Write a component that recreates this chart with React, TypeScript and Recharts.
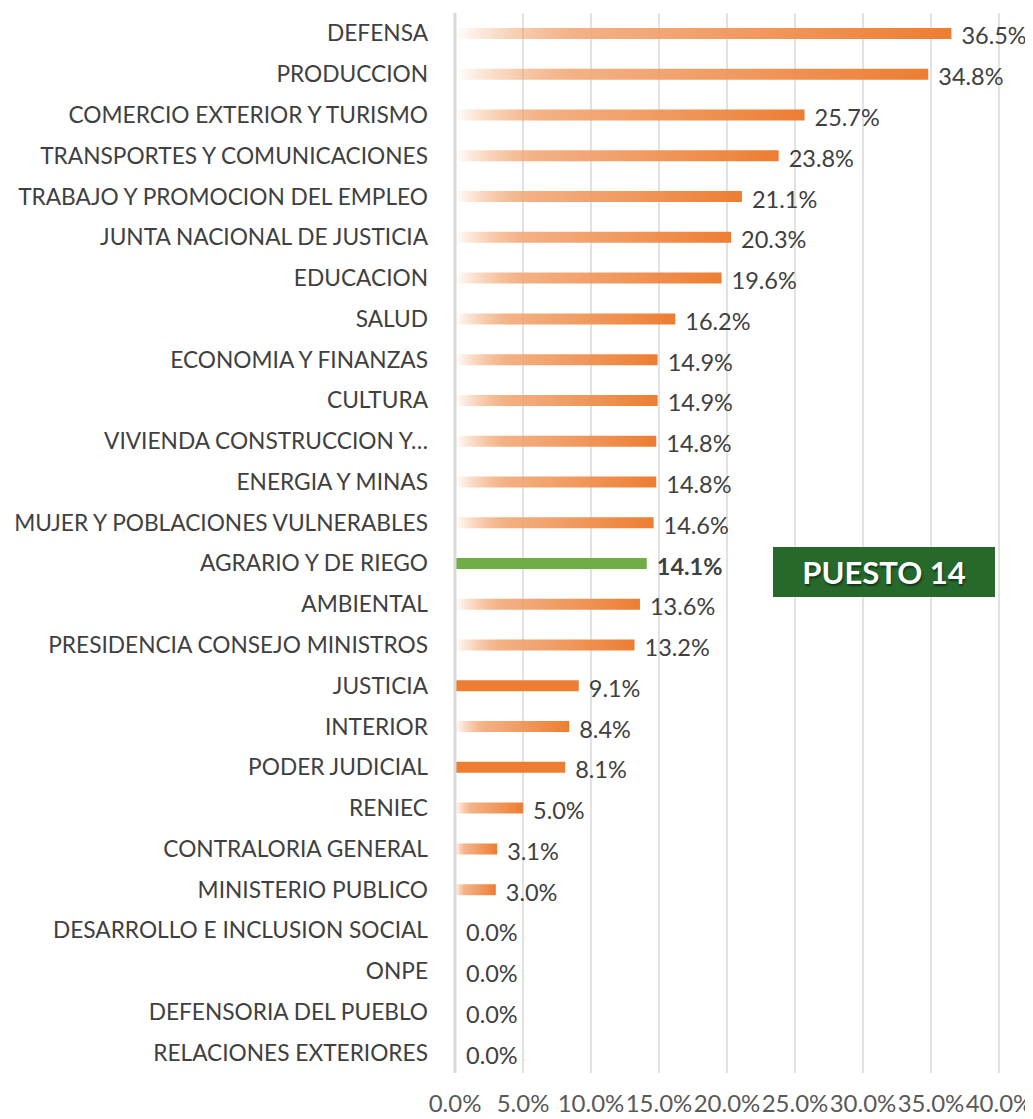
import React from 'react'
import {
    BarChart,
    Bar,
    XAxis,
    YAxis,
    CartesianGrid,
    Cell,
    LabelList,
} from 'recharts'

const sectores = [
    'DEFENSA',
    'PRODUCCION',
    'COMERCIO EXTERIOR Y TURISMO',
    'TRANSPORTES Y COMUNICACIONES',
    'TRABAJO Y PROMOCION DEL EMPLEO',
    'JUNTA NACIONAL DE JUSTICIA',
    'EDUCACION',
    'SALUD',
    'ECONOMIA Y FINANZAS',
    'CULTURA',
    'VIVIENDA CONSTRUCCION Y…',
    'ENERGIA Y MINAS',
    'MUJER Y POBLACIONES VULNERABLES',
    'AGRARIO Y DE RIEGO',
    'AMBIENTAL',
    'PRESIDENCIA CONSEJO MINISTROS',
    'JUSTICIA',
    'INTERIOR',
    'PODER JUDICIAL',
    'RENIEC',
    'CONTRALORIA GENERAL',
    'MINISTERIO PUBLICO',
    'DESARROLLO E INCLUSION SOCIAL',
    'ONPE',
    'DEFENSORIA DEL PUEBLO',
    'RELACIONES EXTERIORES',
]

const avance = [
    36.5, 34.8, 25.7, 23.8, 21.1, 20.3, 19.6, 16.2, 14.9, 14.9, 14.8, 14.8, 14.6,
    14.1, 13.6, 13.2, 9.1, 8.4, 8.1, 5.0, 3.1, 3.0, 0, 0, 0, 0,
]

const xTicks = [0, 5, 10, 15, 20, 25, 30, 35, 40]

const destacado = 'AGRARIO Y DE RIEGO'
const sinDegradado = ['JUSTICIA', 'PODER JUDICIAL']

const pct = (v: number) => `${v.toFixed(1)}%`

const data = sectores.map((name, i) => ({
    name,
    value: avance[i],
    label: pct(avance[i]),
}))

const ValueLabel = (props: any) => {
    const { x, y, width, height, value, index } = props
    const bold = data[index]?.name === destacado
    return (
        <text
            x={Number(x) + Number(width || 0) + 10}
            y={Number(y) + Number(height) / 2 + 5}
            fill='#404040'
            fontSize={23.5}
            fontWeight={bold ? 700 : 400}
            dominantBaseline='middle'
        >
            {value}
        </text>
    )
}

const App: React.FC = () => {
    return (
        <div
            style={{
                position: 'relative',
                width: 1025,
                height: 1111,
                fontFamily: 'Lato, sans-serif',
            }}
        >
            <BarChart
                width={1025}
                height={1111}
                data={data}
                layout='vertical'
                margin={{ top: 5, right: 34, left: 0, bottom: 0 }}
                style={{ overflow: 'visible' }}
            >
                <defs>
                    <linearGradient id='fade' x1='0' y1='0' x2='1' y2='0'>
                        <stop offset='0' stopColor='#ED7D31' stopOpacity={0} />
                        <stop offset='0.25' stopColor='#F2A877' stopOpacity={0.9} />
                        <stop offset='1' stopColor='#ED7D31' stopOpacity={1} />
                    </linearGradient>
                </defs>
                <CartesianGrid
                    horizontal={false}
                    stroke='#d9d9d9'
                    strokeWidth={1.5}
                />
                <XAxis
                    type='number'
                    domain={[0, 40]}
                    ticks={xTicks}
                    tickFormatter={pct}
                    axisLine={false}
                    tickLine={false}
                    tickSize={0}
                    tickMargin={22}
                    height={46}
                    tick={{ fill: '#595959', fontSize: 24 }}
                    interval={0}
                />
                <YAxis
                    type='category'
                    dataKey='name'
                    width={447}
                    axisLine={{ stroke: '#d9d9d9', strokeWidth: 3 }}
                    tickLine={false}
                    tickSize={0}
                    tickMargin={27}
                    interval={0}
                    tick={{ fill: '#404040', fontSize: 22.7 }}
                />
                <Bar
                    dataKey='value'
                    barSize={11}
                    minPointSize={1}
                    isAnimationActive={false}
                >
                    {data.map((d) => (
                        <Cell
                            key={d.name}
                            fill={
                                d.value === 0
                                    ? 'none'
                                    : d.name === destacado
                                      ? '#70AD47'
                                      : sinDegradado.includes(d.name)
                                        ? '#ED7D31'
                                        : 'url(#fade)'
                            }
                        />
                    ))}
                    <LabelList dataKey='label' content={ValueLabel} />
                </Bar>
            </BarChart>
            <div
                style={{
                    position: 'absolute',
                    left: 765,
                    top: 539,
                    width: 222,
                    height: 50,
                    background: '#26692B',
                    color: '#fff',
                    fontWeight: 700,
                    fontSize: 31,
                    display: 'flex',
                    alignItems: 'center',
                    justifyContent: 'center',
                    textShadow: '1px 2px 2px rgba(0,0,0,0.5)',
                }}
            >
                PUESTO 14
            </div>
        </div>
    )
}

export default App
